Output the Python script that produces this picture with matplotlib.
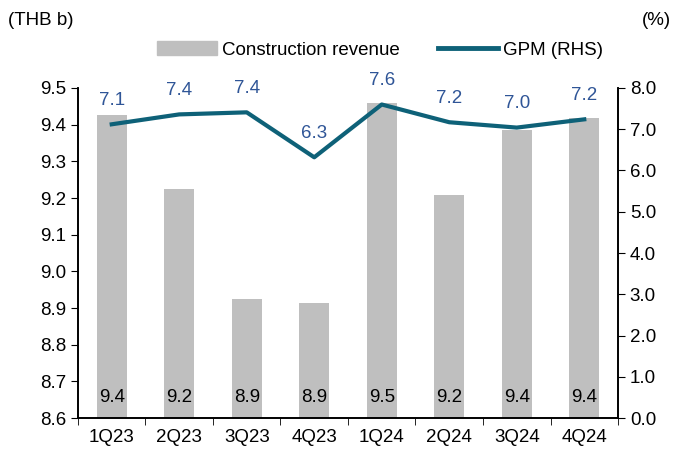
import matplotlib.pyplot as plt
from matplotlib.lines import Line2D
from matplotlib.patches import Patch

plt.rcParams['font.family'] = ['Liberation Sans', 'DejaVu Sans']
plt.rcParams['font.size'] = 13.5

quarters = ['1Q23', '2Q23', '3Q23', '4Q23', '1Q24', '2Q24', '3Q24', '4Q24']
revenue = [9.425, 9.225, 8.925, 8.914, 9.46, 9.208, 9.385, 9.418]
gpm = [7.12, 7.36, 7.41, 6.32, 7.60, 7.17, 7.04, 7.24]

bar_color = '#BFBFBF'
line_color = '#0E6178'
label_blue = '#2F5597'

fig = plt.figure(figsize=(6.81, 4.55), dpi=100)
ax = fig.add_axes([0.1145, 0.0813, 0.7930, 0.7253])
ax2 = ax.twinx()

x = range(len(quarters))
ax.bar(x, revenue, width=0.44, color=bar_color, zorder=1)
for i, v in enumerate(revenue):
    ax.text(i, 8.655, f'{v:.1f}', ha='center', va='center', color='black')

ax.set_ylim(8.6, 9.5)
ax.set_yticks([8.6 + 0.1 * k for k in range(10)])
ax.set_yticklabels([f'{8.6 + 0.1 * k:.1f}' for k in range(10)])
ax.set_xlim(-0.5, len(quarters) - 0.5)
ax.set_xticks(list(x))
ax.set_xticklabels(quarters)
ax.set_xticks([i + 0.5 for i in range(-1, len(quarters))], minor=True)
ax.tick_params(axis='x', which='major', length=0, pad=8)
ax.tick_params(axis='x', which='minor', length=5, direction='out')
ax.tick_params(axis='y', length=5, direction='out')

ax2.plot(list(x), gpm, color=line_color, lw=3, zorder=3)
for i, v in enumerate(gpm):
    ax2.annotate(f'{v:.1f}', (i, v), xytext=(0, 11), textcoords='offset points',
                 ha='center', va='bottom', color=label_blue)
ax2.set_ylim(0, 8)
ax2.set_yticks(range(9))
ax2.set_yticklabels([f'{k:.1f}' for k in range(9)])
ax2.tick_params(axis='y', length=5, direction='out')

for a in (ax, ax2):
    a.spines['top'].set_visible(False)
    for s in ('left', 'right', 'bottom'):
        a.spines[s].set_linewidth(1.2)

fig.text(0.012, 0.955, '(THB b)', ha='left', va='center')
fig.text(0.985, 0.955, '(%)', ha='right', va='center')

handles = [Patch(color=bar_color), Line2D([0], [0], color=line_color, lw=3.5)]
fig.legend(handles, ['Construction revenue', 'GPM (RHS)'], loc='center',
           bbox_to_anchor=(0.558, 0.89), ncol=2, frameon=False,
           handlelength=3.2, handletextpad=0.3, columnspacing=2.0)

fig.savefig('out.png', dpi=100)
